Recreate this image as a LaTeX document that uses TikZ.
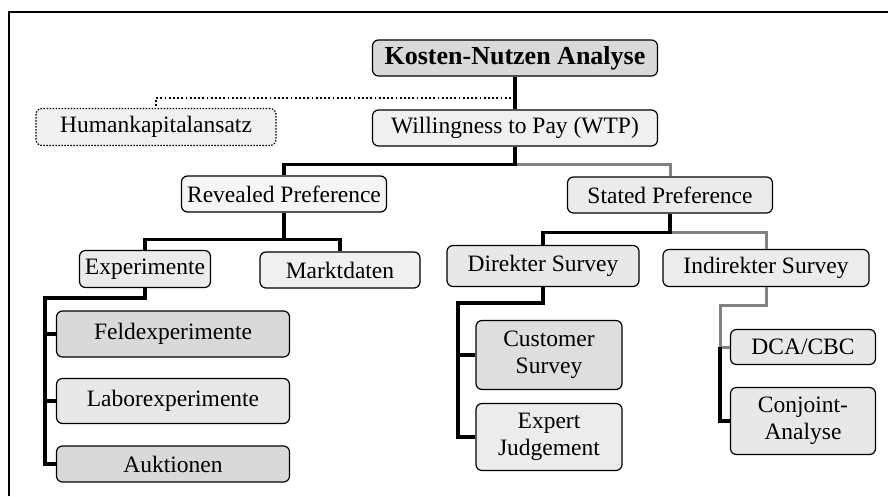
\documentclass[tikz,border=0pt]{standalone}
\usepackage{fontspec}
\setmainfont{Liberation Serif}
\usepackage{tikz}
\usetikzlibrary{positioning}
\tikzstyle{box} = [rectangle, rounded corners=6pt, draw=black, line width=1.2pt, text centered, font=\fontsize{23.5}{27}\selectfont, inner sep=2pt]
\tikzstyle{dark} = [box, fill=gray!30]
\tikzstyle{light} = [box, fill=gray!12]
\tikzstyle{blk} = [line width=3.5pt, black]
\tikzstyle{gry} = [line width=3pt, gray!60!black!70]
\tikzstyle{dotline} = [line width=2.2pt, dash pattern=on 1.8pt off 2.4pt]

\begin{document}
\begin{tikzpicture}[x=1pt, y=-1pt]
\useasboundingbox (0,0) rectangle (888,496);
% frame
\draw[line width=1.5pt] (9,496) -- (9,12) -- (888,12);

\node (kna) [dark, minimum width=285pt, minimum height=36pt, font=\fontsize{26}{30}\selectfont\bfseries] at (515,58) {Kosten-Nutzen Analyse};
\node (hk) [light, dash pattern=on 1.5pt off 1.5pt, minimum width=240pt, minimum height=37pt] at (156,127) {Humankapitalansatz};
\node (wtp) [light, minimum width=285pt, minimum height=36pt] at (515,128) {Willingness to Pay (WTP)};
\node (rp) [light, fill=gray!8, minimum width=205pt, minimum height=36pt] at (284,194) {Revealed Preference};
\node (sp) [light, fill=gray!16, minimum width=205pt, minimum height=36pt] at (670,195) {Stated Preference};
\node (exp) [light, fill=gray!16, minimum width=131pt, minimum height=37pt] at (145,269) {Experimente};
\node (mkt) [light, minimum width=160pt, minimum height=36pt] at (340,270) {Marktdaten};
\node (ds) [light, fill=gray!18, minimum width=192pt, minimum height=41pt] at (543,266) {Direkter Survey};
\node (is) [light, fill=gray!15, minimum width=206pt, minimum height=37pt] at (766,268) {Indirekter Survey};
\node (feld) [dark, minimum width=233pt, minimum height=46pt] at (173,334) {Feldexperimente};
\node (labor) [light, fill=gray!18, minimum width=233pt, minimum height=45pt] at (173,401) {Laborexperimente};
\node (auk) [dark, minimum width=233pt, minimum height=36pt] at (173,464) {Auktionen};
\node (cust) [dark, fill=gray!26, minimum width=146pt, minimum height=69pt, text width=140pt] at (549,355) {Customer\\Survey};
\node (expj) [light, fill=gray!15, minimum width=146pt, minimum height=67pt, text width=140pt] at (549,437) {Expert\\Judgement};
\node (dca) [light, fill=gray!18, minimum width=145pt, minimum height=35pt] at (803,347) {DCA/CBC};
\node (conj) [light, fill=gray!18, minimum width=145pt, minimum height=67pt, text width=139pt] at (803,421) {Conjoint-\\Analyse};

% bus points
\coordinate (expbus) at (45,298);
\coordinate (dsbus) at (458,303);
\coordinate (isbus) at (720,305);

\draw[blk] (kna.south) -- (wtp.north);
\draw[dotline] (kna.south) ++(0,21) -| (hk.north);

\draw[gry] (wtp.south) ++(0,18) -| (sp.north);
\draw[blk] (wtp.south) -- ++(0,18) -| (rp.north);

\draw[blk] (rp.south) -- ++(0,27) -| (exp.north);
\draw[blk] (rp.south) ++(0,27) -| (mkt.north);

\draw[gry] (sp.south) ++(0,19) -| (is.north);
\draw[blk] (sp.south) -- ++(0,19) -| (ds.north);

\draw[blk] (exp.south) |- (expbus) -- (expbus |- auk.west) -- (auk.west);
\draw[blk] (expbus |- feld.west) -- (feld.west);
\draw[blk] (expbus |- labor.west) -- (labor.west);

\draw[blk] (ds.south) |- (dsbus) -- (dsbus |- expj.west) -- (expj.west);
\draw[blk] (dsbus |- cust.west) -- (cust.west);

\draw[gry] (is.south) |- (isbus) -- (isbus |- dca.west) -- (dca.west);
\draw[blk] (isbus |- dca.west) -- (isbus |- conj.west) -- (conj.west);

\end{tikzpicture}
\end{document}
